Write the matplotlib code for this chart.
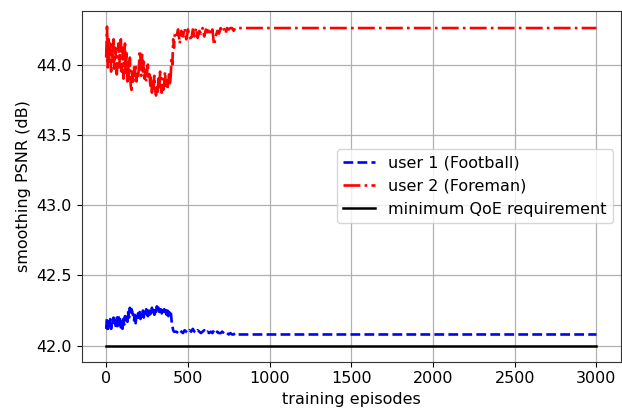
import numpy as np
import matplotlib
matplotlib.use("Agg")
import matplotlib.pyplot as plt

# episodes sampled every 5 steps in the early noisy phase, then every 10
ep_early = np.arange(0, 425, 5)
ep_late = np.arange(430, 860, 10)
ep_end = [3000]

foreman_early = [44.05, 44.27, 43.98, 44.2, 44.0, 44.15, 43.95, 44.1, 44.02, 44.18,
                 43.97, 44.12, 44.05, 43.93, 44.08, 44.15, 43.98, 44.1, 44.18, 43.95,
                 44.12, 43.9, 44.05, 44.15, 43.92, 44.08, 43.88, 44.0, 43.9, 44.05,
                 43.85, 43.82, 43.95, 43.88, 43.98, 43.92, 44.0, 43.88, 43.95, 43.9,
                 43.98, 44.1, 44.05, 43.92, 44.07, 43.95, 44.02, 43.9, 43.96, 43.88,
                 43.95, 44.0, 43.9, 43.93, 43.85, 43.92, 43.8, 43.88, 43.83, 43.92,
                 43.82, 43.78, 43.86, 43.8, 43.9, 43.82, 43.95, 43.85, 43.8, 43.9,
                 43.82, 43.86, 43.95, 43.85, 43.9, 43.83, 43.88, 43.93, 43.85, 43.92,
                 44.05, 44.0, 44.18, 44.12, 44.22]
foreman_late = [44.2, 44.25, 44.15, 44.24, 44.2, 44.26, 44.18, 44.25, 44.21, 44.17,
                44.25, 44.2, 44.26, 44.19, 44.24, 44.22, 44.26, 44.2, 44.25, 44.23,
                44.26, 44.21, 44.25, 44.14, 44.2, 44.24, 44.22, 44.26, 44.24, 44.26,
                44.22, 44.26, 44.25, 44.26, 44.26, 44.24, 44.26, 44.26, 44.26, 44.26,
                44.26, 44.26, 44.26]
foreman_end = [44.26]

football_early = [42.12, 42.2, 42.1, 42.17, 42.13, 42.19, 42.12, 42.16, 42.14, 42.2,
                  42.15, 42.18, 42.12, 42.2, 42.14, 42.21, 42.15, 42.19, 42.13, 42.17,
                  42.12, 42.19, 42.15, 42.21, 42.18, 42.22, 42.17, 42.24, 42.2, 42.27,
                  42.22, 42.26, 42.24, 42.21, 42.18, 42.22, 42.16, 42.21, 42.18, 42.23,
                  42.2, 42.24, 42.19, 42.23, 42.21, 42.25, 42.2, 42.24, 42.22, 42.26,
                  42.23, 42.21, 42.25, 42.22, 42.26, 42.23, 42.27, 42.24, 42.26, 42.22,
                  42.27, 42.24, 42.28, 42.25, 42.27, 42.24, 42.28, 42.26, 42.23, 42.25,
                  42.22, 42.26, 42.24, 42.27, 42.22, 42.25, 42.21, 42.24, 42.22, 42.25,
                  42.18, 42.14, 42.11, 42.1, 42.1]
football_late = [42.1, 42.09, 42.11, 42.1, 42.09, 42.11, 42.1, 42.09, 42.11, 42.1,
                 42.12, 42.1, 42.09, 42.11, 42.1, 42.09, 42.1, 42.11, 42.09, 42.1,
                 42.09, 42.1, 42.09, 42.11, 42.09, 42.1, 42.09, 42.09, 42.1, 42.09,
                 42.08, 42.09, 42.08, 42.09, 42.08, 42.08, 42.09, 42.08, 42.08, 42.08,
                 42.08, 42.08, 42.08]
football_end = [42.08]

qoe_min = 42.0

episodes = np.concatenate([ep_early, ep_late, ep_end])
football = np.concatenate([football_early, football_late, football_end])
foreman = np.concatenate([foreman_early, foreman_late, foreman_end])

plt.rcParams['font.size'] = 11.5

fig = plt.figure(figsize=(6.22, 4.11), dpi=100)
ax = fig.add_axes([0.1313, 0.12, 0.867, 0.854])

ax.plot(episodes, football, 'b--', lw=1.9, label='user 1 (Football)')
ax.plot(episodes, foreman, 'r-.', lw=1.9, label='user 2 (Foreman)')
ax.plot([episodes[0], episodes[-1]], [qoe_min, qoe_min], 'k-', lw=1.8,
        label='minimum QoE requirement')

ax.grid(True, color='#b0b0b0', lw=0.9)
ax.set_axisbelow(True)
ax.set_yticks([42.0, 42.5, 43.0, 43.5, 44.0])
ax.set_xticks([0, 500, 1000, 1500, 2000, 2500, 3000])
ax.set_xlabel('training episodes')
ax.set_ylabel('smoothing PSNR (dB)')
for s in ax.spines.values():
    s.set_color('#333333')
ax.legend(loc='center right')

fig.savefig('out.png', dpi=100)
